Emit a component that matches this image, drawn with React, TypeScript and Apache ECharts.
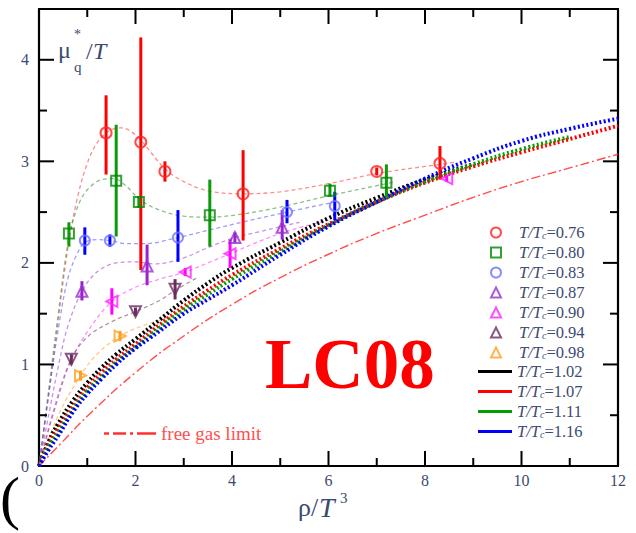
import React, { useEffect, useRef } from "react";
import * as echarts from "echarts";

const SERIF = "'Liberation Serif', 'DejaVu Serif', serif";
const TXT = "#3d4a70";

// ---- axis ticks ----
const xTicks = [0, 2, 4, 6, 8, 10, 12];
const xInnerMajor = [2, 4, 6, 8, 10];
const xMinorTicks = [1, 3, 5, 7, 9, 11];
const yTicks = [0, 1, 2, 3, 4];
const yInnerMajor = [1, 2, 3, 4];
const yMinorTicks = [0.5, 1.5, 2.5, 3.5];
const X_MAX = 12;
const Y_MAX = 4.5;

// ---- legend labels (T/Tc) ----
const subTcNames = ["0.76", "0.80", "0.83", "0.87", "0.90", "0.94", "0.98"];
const supTcNames = ["1.02", "1.07", "1.11", "1.16"];

// ---- T/Tc = 0.76 ----
const t076X = [1.39, 2.11, 2.61, 4.23, 7.0, 8.31];
const t076Y = [3.28, 3.19, 2.9, 2.68, 2.9, 2.98];
const t076Lo = [2.87, 1.93, 2.8, 2.22, 2.86, 2.82];
const t076Hi = [3.65, 4.22, 3.0, 3.11, 2.94, 3.15];
const fit076X = [0, 0.2, 0.4, 0.6, 0.8, 1.0, 1.2, 1.45, 1.7, 2.0, 2.3, 2.6, 3.0, 3.5, 4.2, 5.0, 6.0, 7.0, 8.0, 8.6];
const fit076Y = [0, 0.7, 1.45, 2.15, 2.65, 2.98, 3.18, 3.3, 3.33, 3.26, 3.1, 2.93, 2.8, 2.71, 2.68, 2.7, 2.78, 2.88, 2.95, 2.99];

// ---- T/Tc = 0.80 ----
const t080X = [0.62, 1.6, 2.07, 3.54, 6.03, 7.2];
const t080Y = [2.29, 2.81, 2.6, 2.47, 2.71, 2.79];
const t080Lo = [2.16, 2.26, 2.54, 2.16, 2.65, 2.64];
const t080Hi = [2.4, 3.36, 2.66, 2.82, 2.78, 2.97];
const fit080X = [0, 0.2, 0.4, 0.62, 0.8, 1.0, 1.3, 1.55, 1.8, 2.1, 2.5, 3.0, 3.5, 4.2, 5.0, 6.0, 7.2, 7.4];
const fit080Y = [0, 0.75, 1.5, 2.25, 2.55, 2.72, 2.82, 2.83, 2.76, 2.62, 2.52, 2.46, 2.45, 2.48, 2.55, 2.66, 2.78, 2.8];

// ---- T/Tc = 0.83 ----
const t083X = [0.95, 1.47, 2.88, 5.14, 6.13];
const t083Y = [2.22, 2.22, 2.25, 2.5, 2.56];
const t083Lo = [2.08, 2.16, 2.01, 2.39, 2.42];
const t083Hi = [2.35, 2.28, 2.52, 2.62, 2.7];
const fit083X = [0, 0.2, 0.4, 0.6, 0.8, 0.95, 1.2, 1.47, 1.8, 2.2, 2.88, 3.5, 4.2, 5.14, 6.13];
const fit083Y = [0, 0.7, 1.35, 1.85, 2.1, 2.2, 2.23, 2.22, 2.19, 2.19, 2.25, 2.32, 2.4, 2.5, 2.6];

// ---- T/Tc = 0.87 ----
const t087X = [0.89, 2.24, 4.06, 5.04];
const t087Y = [1.72, 1.97, 2.25, 2.35];
const t087Lo = [1.63, 1.78, 2.2, 2.23];
const t087Hi = [1.82, 2.18, 2.3, 2.52];
const fit087X = [0, 0.2, 0.4, 0.6, 0.89, 1.2, 1.6, 2.0, 2.4, 3.0, 3.5, 4.06, 4.6, 5.04, 5.4];
const fit087Y = [0, 0.5, 0.98, 1.38, 1.72, 1.91, 2.0, 2.01, 1.99, 2.05, 2.15, 2.25, 2.31, 2.36, 2.4];

// ---- T/Tc = 0.90 ----
const t090X = [1.51, 3.03, 3.96, 8.45];
const t090Y = [1.62, 1.91, 2.09, 2.83];
const t090Lo = [1.49, 1.87, 1.95, 2.8];
const t090Hi = [1.75, 1.95, 2.23, 2.86];
const fit090X = [0, 0.3, 0.6, 1.0, 1.51, 2.0, 2.5, 3.03, 3.5, 3.96, 4.5, 5.0, 5.5, 6.0];
const fit090Y = [0, 0.55, 0.98, 1.32, 1.62, 1.76, 1.84, 1.91, 2.0, 2.09, 2.2, 2.29, 2.36, 2.42];

// ---- T/Tc = 0.94 ----
const t094X = [0.67, 2.0, 2.82];
const t094Y = [1.05, 1.52, 1.74];
const t094Lo = [1.0, 1.48, 1.64];
const t094Hi = [1.1, 1.56, 1.84];
const fit094X = [0, 0.3, 0.67, 1.0, 1.5, 2.0, 2.5, 2.82, 3.3];
const fit094Y = [0, 0.52, 1.05, 1.27, 1.42, 1.52, 1.63, 1.73, 1.86];

// ---- T/Tc = 0.98 ----
const t098X = [0.86, 1.68];
const t098Y = [0.89, 1.28];
const t098Lo = [0.84, 1.23];
const t098Hi = [0.94, 1.33];
const fit098X = [0, 0.4, 0.86, 1.2, 1.68, 2.2, 2.9, 3.5, 4.0];
const fit098Y = [0, 0.5, 0.89, 1.1, 1.28, 1.39, 1.5, 1.64, 1.77];

// ---- T/Tc > 1 dense results ----
const d102X = [0, 0.2, 0.4, 0.7, 1.0, 1.3, 1.6, 2.0, 2.5, 3.0, 3.5, 4.0, 5.0, 6.0, 7.0, 8.0, 9.0];
const d102Y = [0, 0.24, 0.42, 0.64, 0.82, 0.97, 1.1, 1.25, 1.44, 1.63, 1.8, 1.95, 2.2, 2.44, 2.64, 2.82, 2.97];
const d107X = [0, 0.2, 0.4, 0.7, 1.0, 1.3, 1.6, 2.0, 2.5, 3.0, 3.5, 4.0, 5.0, 6.0, 7.0, 8.0, 9.0, 10.0, 11.0, 12.0];
const d107Y = [0, 0.21, 0.37, 0.58, 0.77, 0.92, 1.05, 1.2, 1.39, 1.57, 1.73, 1.88, 2.14, 2.38, 2.6, 2.79, 2.95, 3.09, 3.22, 3.35];
const d111X = [0, 0.2, 0.4, 0.7, 1.0, 1.3, 1.6, 2.0, 2.5, 3.0, 3.5, 4.0, 5.0, 6.0, 7.0, 8.0, 9.0, 10.0, 11.0];
const d111Y = [0, 0.19, 0.33, 0.55, 0.74, 0.88, 1.02, 1.17, 1.36, 1.54, 1.69, 1.84, 2.11, 2.37, 2.6, 2.8, 2.97, 3.12, 3.24];
const d116X = [0, 0.2, 0.4, 0.7, 1.0, 1.3, 1.6, 2.0, 2.3, 3.0, 3.5, 4.0, 5.0, 6.0, 7.0, 8.0, 9.0, 10.0, 11.0, 12.0];
const d116Y = [0, 0.16, 0.3, 0.53, 0.71, 0.86, 1.0, 1.16, 1.26, 1.5, 1.64, 1.78, 2.08, 2.36, 2.6, 2.83, 3.03, 3.2, 3.32, 3.42];

// ---- free gas limit ----
const freeX = [0, 0.5, 1, 2, 3, 4, 5, 6, 7, 8, 9, 10, 11, 12];
const freeY = [0, 0.245, 0.49, 0.92, 1.28, 1.59, 1.855, 2.085, 2.29, 2.47, 2.645, 2.8, 2.935, 3.07];

const pairs = (xs: number[], ys: number[]) => xs.map((x, i) => [x, ys[i]]);

type SubSet = {
  name: string; x: number[]; y: number[]; lo: number[]; hi: number[];
  fx: number[]; fy: number[]; color: string; mark: string; bar: string;
  symbol: string; rotate: number; size: number;
};

const subSets: SubSet[] = [
  { name: subTcNames[0], x: t076X, y: t076Y, lo: t076Lo, hi: t076Hi, fx: fit076X, fy: fit076Y, color: "#ff3030", mark: "#ff2020", bar: "#ff0000", symbol: "circle", rotate: 0, size: 11 },
  { name: subTcNames[1], x: t080X, y: t080Y, lo: t080Lo, hi: t080Hi, fx: fit080X, fy: fit080Y, color: "#2a8a2a", mark: "#008800", bar: "#0a9a0a", symbol: "rect", rotate: 0, size: 10 },
  { name: subTcNames[2], x: t083X, y: t083Y, lo: t083Lo, hi: t083Hi, fx: fit083X, fy: fit083Y, color: "#4b4bff", mark: "#7070ff", bar: "#0000ff", symbol: "circle", rotate: 0, size: 10 },
  { name: subTcNames[3], x: t087X, y: t087Y, lo: t087Lo, hi: t087Hi, fx: fit087X, fy: fit087Y, color: "#9a35d0", mark: "#9a30d0", bar: "#9a20d0", symbol: "triangle", rotate: 0, size: 11 },
  { name: subTcNames[4], x: t090X, y: t090Y, lo: t090Lo, hi: t090Hi, fx: fit090X, fy: fit090Y, color: "#ff30ff", mark: "#ff20ff", bar: "#ff00ff", symbol: "triangle", rotate: 90, size: 11 },
  { name: subTcNames[5], x: t094X, y: t094Y, lo: t094Lo, hi: t094Hi, fx: fit094X, fy: fit094Y, color: "#6e3a64", mark: "#6b2c5f", bar: "#6b2c5f", symbol: "triangle", rotate: 180, size: 11 },
  { name: subTcNames[6], x: t098X, y: t098Y, lo: t098Lo, hi: t098Hi, fx: fit098X, fy: fit098Y, color: "#ff9a20", mark: "#ffa020", bar: "#ffa020", symbol: "triangle", rotate: -90, size: 11 },
];

const supSets = [
  { name: supTcNames[0], x: d102X, y: d102Y, color: "#000000" },
  { name: supTcNames[1], x: d107X, y: d107Y, color: "#ff0000" },
  { name: supTcNames[2], x: d111X, y: d111Y, color: "#00a000" },
  { name: supTcNames[3], x: d116X, y: d116Y, color: "#0000ff" },
];

const legendRich = {
  g: { width: 13, lineHeight: 15 },
  t: { fontFamily: SERIF, fontStyle: "italic", fontSize: 16.5, color: TXT, lineHeight: 15 },
  s: { fontFamily: SERIF, fontStyle: "italic", fontSize: 10, color: TXT, lineHeight: 8, verticalAlign: "bottom", padding: [7, 0, 0, 0] },
  v: { fontFamily: SERIF, fontSize: 16.5, color: TXT, lineHeight: 15 },
};

const textGraphics: any[] = [
  { type: "text", left: 58, top: 38, style: { text: "μ", fontFamily: SERIF, fontSize: 24, fill: TXT } },
  { type: "text", left: 74, top: 27, style: { text: "*", fontFamily: SERIF, fontSize: 14, fill: TXT } },
  { type: "text", left: 74, top: 59, style: { text: "q", fontFamily: SERIF, fontSize: 15, fill: TXT } },
  { type: "text", left: 86, top: 39, style: { text: "/", fontFamily: SERIF, fontSize: 24, fill: TXT } },
  { type: "text", left: 93, top: 39, style: { text: "T", fontFamily: SERIF, fontStyle: "italic", fontSize: 24, fill: TXT } },
  { type: "text", left: 298, top: 494, style: { text: "ρ/", fontFamily: SERIF, fontSize: 26, fill: TXT } },
  { type: "text", left: 319, top: 493, style: { text: "T", fontFamily: SERIF, fontStyle: "italic", fontSize: 28, fill: TXT } },
  { type: "text", left: 340, top: 490, style: { text: "3", fontFamily: SERIF, fontSize: 15, fill: TXT } },
  { type: "text", left: 265, top: 328, style: { text: "LC08", fontFamily: SERIF, fontWeight: "bold", fontSize: 71, fill: "#ff0000" } },
  { type: "text", left: 0, top: 468, style: { text: "(", fontFamily: SERIF, fontSize: 60, fill: "#000" } },
];

// frame ticks drawn as thin rect symbols anchored on the frame and offset inward
function tickScatter(name: string, data: number[][], size: number[], offset: number[]): any {
  return {
    type: "scatter", name, data, z: 8, silent: true, clip: false,
    symbol: "rect", symbolSize: size, symbolOffset: offset,
    itemStyle: { color: "#000", borderWidth: 0, opacity: 1 },
    emphasis: { disabled: true },
  };
}

function buildOption(): any {
  const series: any[] = [];

  series.push({
    type: "line", name: "free gas limit", data: pairs(freeX, freeY), smooth: true,
    symbol: "none", z: 1,
    lineStyle: { color: "#ff3030", width: 1.4, type: [9, 3, 2, 3], opacity: 0.85 },
    itemStyle: { color: "#ff3030" },
  });

  // ticks (bottom/top along x, left/right along y), major 15px, minor 8px
  series.push(tickScatter("tick-b-major", xInnerMajor.map((v) => [v, 0]), [2, 15], [0, -7.5]));
  series.push(tickScatter("tick-b-minor", xMinorTicks.map((v) => [v, 0]), [2, 8], [0, -4]));
  series.push(tickScatter("tick-t-major", xInnerMajor.map((v) => [v, Y_MAX]), [2, 15], [0, 7.5]));
  series.push(tickScatter("tick-t-minor", xMinorTicks.map((v) => [v, Y_MAX]), [2, 8], [0, 4]));
  series.push(tickScatter("tick-l-major", yInnerMajor.map((v) => [0, v]), [15, 2], [7.5, 0]));
  series.push(tickScatter("tick-l-minor", yMinorTicks.map((v) => [0, v]), [8, 2], [4, 0]));
  series.push(tickScatter("tick-r-major", yInnerMajor.map((v) => [X_MAX, v]), [15, 2], [-7.5, 0]));
  series.push(tickScatter("tick-r-minor", yMinorTicks.map((v) => [X_MAX, v]), [8, 2], [-4, 0]));

  subSets.forEach((s) => {
    series.push({
      type: "line", name: "fit-" + s.name, data: pairs(s.fx, s.fy), smooth: 0.35,
      symbol: "none", z: 2, silent: true,
      lineStyle: { color: s.color, width: 1.3, type: [4, 3], opacity: 0.55 },
    });
  });

  supSets.forEach((s) => {
    series.push({
      type: "line", name: s.name, data: pairs(s.x, s.y), smooth: true,
      symbol: "none", z: 3,
      lineStyle: { color: s.color, width: 4, type: [2, 2.4] },
      itemStyle: { color: s.color },
    });
  });

  subSets.forEach((s) => {
    series.push({
      type: "custom", name: "err-" + s.name, z: 4, silent: true,
      data: s.x.map((x, i) => [x, s.lo[i], s.hi[i]]),
      encode: { x: 0, y: [1, 2] },
      renderItem: (_p: any, api: any) => {
        const a = api.coord([api.value(0), api.value(1)]);
        const b = api.coord([api.value(0), api.value(2)]);
        return {
          type: "line",
          shape: { x1: a[0], y1: a[1], x2: b[0], y2: b[1] },
          style: { stroke: s.bar, lineWidth: 3 },
        };
      },
    });
  });

  subSets.forEach((s) => {
    series.push({
      type: "scatter", name: s.name, data: pairs(s.x, s.y), z: 5,
      symbol: s.symbol, symbolRotate: s.rotate, symbolSize: s.size,
      itemStyle: { color: "rgba(255,255,255,0)", borderColor: s.mark, borderWidth: 2 },
    });
  });

  const axisLine = { show: true, onZero: false, lineStyle: { color: "#000", width: 2.2 } };
  const label = { show: true, color: TXT, fontFamily: SERIF, fontSize: 16 };

  return {
    animation: false,
    backgroundColor: "#ffffff",
    grid: { left: 39, right: 18, top: 9, bottom: 67, containLabel: false },
    xAxis: [
      {
        type: "value", min: 0, max: X_MAX, interval: 2, position: "bottom", axisLine,
        splitLine: { show: false }, axisTick: { show: false },
        axisLabel: { ...label, margin: 6, formatter: (v: number) => (xTicks.includes(v) ? String(v) : "") },
      },
      {
        type: "value", min: 0, max: X_MAX, interval: 2, position: "top", axisLine,
        splitLine: { show: false }, axisTick: { show: false }, axisLabel: { show: false },
      },
    ],
    yAxis: [
      {
        type: "value", min: 0, max: Y_MAX, interval: 1, position: "left", axisLine,
        splitLine: { show: false }, axisTick: { show: false },
        axisLabel: { ...label, margin: 10, formatter: (v: number) => (yTicks.includes(v) ? String(v) : "") },
      },
      {
        type: "value", min: 0, max: Y_MAX, interval: 1, position: "right", axisLine,
        splitLine: { show: false }, axisTick: { show: false }, axisLabel: { show: false },
      },
    ],
    legend: [
      {
        orient: "vertical", left: 490, top: 223, itemWidth: 10, itemHeight: 10, itemGap: 2,
        padding: 0,
        data: subTcNames,
        formatter: (n: string) => `{g|}{t|T/T}{s|c}{v|=${n}}`,
        textStyle: { rich: legendRich },
      },
      {
        orient: "vertical", left: 478, top: 362, itemWidth: 34, itemHeight: 3, itemGap: 2,
        padding: 0, icon: "rect",
        data: supTcNames,
        formatter: (n: string) => `{t|T/T}{s|c}{v|=${n}}`,
        textStyle: { rich: legendRich },
      },
      {
        orient: "horizontal", left: 104, top: 424, itemWidth: 52, itemHeight: 2.5, padding: 0,
        icon: "path://M0 0h5v2.5H0z M9 0h13v2.5H9z M26 0h3v2.5h-3z M33 0h19v2.5h-19z",
        data: ["free gas limit"],
        textStyle: { fontFamily: SERIF, fontSize: 19, color: "#ff5050" },
      },
    ],
    graphic: textGraphics,
    series,
  };
}

export default function App() {
  const ref = useRef<HTMLDivElement>(null);
  useEffect(() => {
    if (!ref.current) return;
    const chart = echarts.init(ref.current, undefined, { renderer: "svg" });
    chart.setOption(buildOption());
    return () => chart.dispose();
  }, []);
  return (
    <div
      ref={ref}
      style={{ position: "fixed", left: 0, top: 0, width: 636, height: 533, background: "#fff" }}
    />
  );
}
